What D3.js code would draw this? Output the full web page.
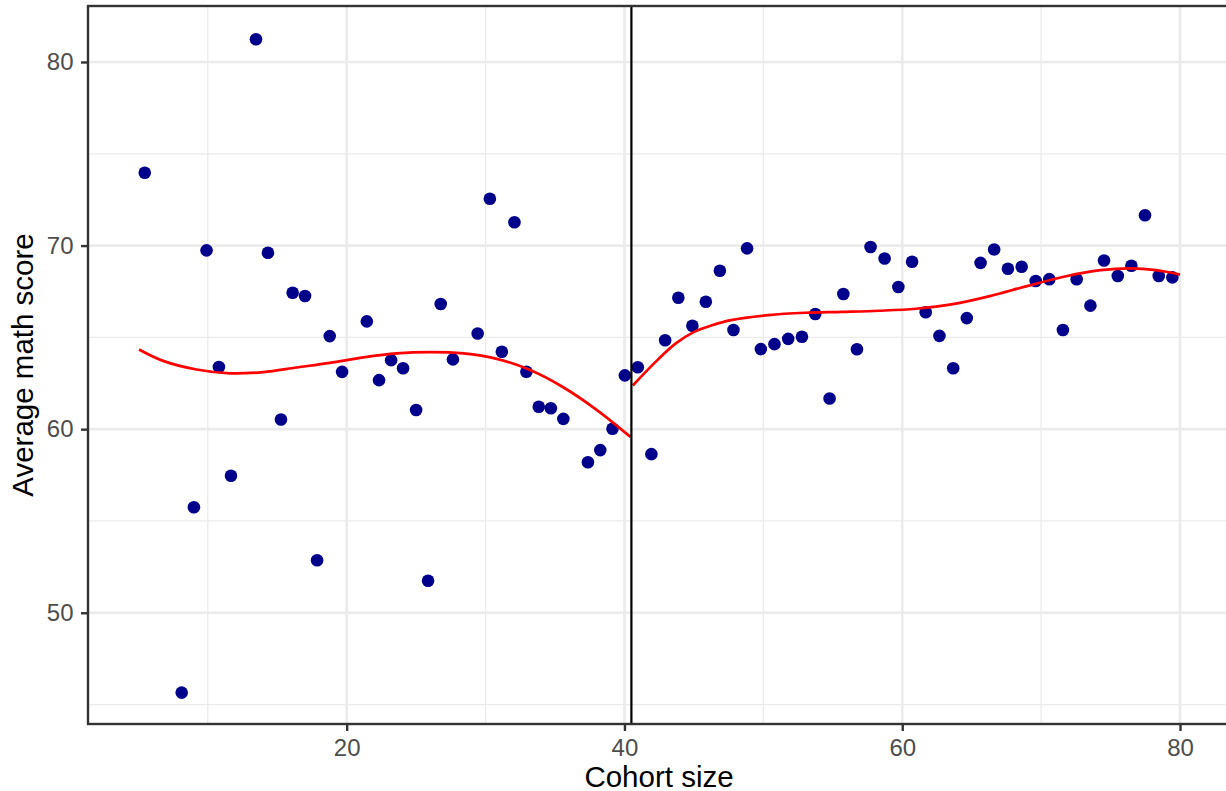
<!DOCTYPE html>
<html>
<head>
<meta charset="utf-8">
<script src="https://cdn.jsdelivr.net/npm/d3@7"></script>
<style>
  body { margin: 0; background: #fff; }
  svg { display: block; font-family: "Liberation Sans", Arial, sans-serif; }
</style>
</head>
<body>
<svg></svg>
<script>
// cohorts below the cutoff
var cohortLeft = [5.46, 8.12, 9.0, 9.91, 10.8, 11.67, 13.47, 14.33, 15.27, 16.11, 17.0, 17.87,
    18.78, 19.67, 21.45, 22.33, 23.2, 24.06, 25.0, 25.86, 26.77, 27.65, 29.43, 30.31, 31.17,
    32.08, 32.94, 33.83, 34.7, 35.6, 37.37, 38.26, 39.14, 40.03];
var scoreLeft = [73.97, 45.65, 55.75, 69.74, 63.39, 57.46, 81.24, 69.61, 60.53, 67.43, 67.25, 52.86,
    65.07, 63.12, 65.87, 62.67, 63.76, 63.32, 61.04, 51.74, 66.82, 63.8, 65.21, 72.55, 64.22,
    71.27, 63.13, 61.22, 61.14, 60.56, 58.2, 58.86, 60.02, 62.93];

// cohorts above the cutoff
var cohortRight = [40.96, 41.94, 42.93, 43.88, 44.89, 45.86, 46.87, 47.85, 48.83, 49.82, 50.8, 51.79,
    52.78, 53.74, 54.77, 55.76, 56.74, 57.72, 58.73, 59.72, 60.71, 61.69, 62.68, 63.67, 64.65,
    65.64, 66.62, 67.61, 68.6, 69.61, 70.59, 71.57, 72.56, 73.55, 74.53, 75.52, 76.5, 77.48,
    78.47, 79.45];
var scoreRight = [63.37, 58.64, 64.84, 67.16, 65.63, 66.94, 68.63, 65.4, 69.85, 64.36, 64.63, 64.92,
    65.03, 66.27, 61.67, 67.36, 64.35, 69.92, 69.3, 67.74, 69.12, 66.37, 65.08, 63.32, 66.05,
    69.06, 69.79, 68.74, 68.85, 68.07, 68.17, 65.4, 68.17, 66.73, 69.19, 68.34, 68.9, 71.65,
    68.34, 68.27];

// smoothed fit
var smoothLeftX = [5.05, 6.78, 9.19, 11.59, 13.99, 16.4, 18.8, 21.2, 23.6, 26.0, 28.41, 30.81,
    33.21, 35.62, 38.02, 40.43];
var smoothLeftY = [64.34, 63.72, 63.25, 63.04, 63.11, 63.36, 63.61, 63.91, 64.13, 64.2, 64.13, 63.83,
    63.22, 62.27, 61.04, 59.58];
var smoothRightX = [40.6, 42.37, 43.7, 45.02, 46.36, 47.68, 50.35, 53.0, 55.67, 58.33, 60.99, 63.65,
    66.31, 68.97, 71.63, 74.29, 76.42, 78.28, 80.0];
var smoothRightY = [62.38, 63.76, 64.67, 65.3, 65.67, 65.94, 66.21, 66.34, 66.39, 66.45, 66.56, 66.81,
    67.25, 67.79, 68.3, 68.66, 68.76, 68.66, 68.42];

var cutoff = 40.5;
var xTicks = [20, 40, 60, 80];
var xMinor = [10, 30, 50, 70];
var yTicks = [50, 60, 70, 80];
var yMinor = [45, 55, 65, 75];

var svgWidth = 1226, svgHeight = 791;
var panel = { left: 88, right: 1230, top: 6, bottom: 724 };

var svg = d3.select("svg")
    .attr("width", svgWidth)
    .attr("height", svgHeight);

svg.append("rect")
    .attr("width", "100%")
    .attr("height", "100%")
    .attr("fill", "white");

var x = d3.scaleLinear().domain([1.375, 83.6]).range([panel.left, panel.right]);
var y = d3.scaleLinear().domain([43.94, 83.05]).range([panel.bottom, panel.top]);

svg.append("clipPath").attr("id", "clip")
    .append("rect")
    .attr("x", panel.left).attr("y", panel.top)
    .attr("width", panel.right - panel.left)
    .attr("height", panel.bottom - panel.top);

var g = svg.append("g").attr("clip-path", "url(#clip)");

// grid
g.selectAll(".xminor").data(xMinor).enter().append("line")
    .attr("x1", d => x(d)).attr("x2", d => x(d))
    .attr("y1", panel.top).attr("y2", panel.bottom)
    .attr("stroke", "#ebebeb").attr("stroke-width", 1.3);
g.selectAll(".yminor").data(yMinor).enter().append("line")
    .attr("y1", d => y(d)).attr("y2", d => y(d))
    .attr("x1", panel.left).attr("x2", panel.right)
    .attr("stroke", "#ebebeb").attr("stroke-width", 1.3);
g.selectAll(".xmajor").data(xTicks).enter().append("line")
    .attr("x1", d => x(d)).attr("x2", d => x(d))
    .attr("y1", panel.top).attr("y2", panel.bottom)
    .attr("stroke", "#ebebeb").attr("stroke-width", 2.6);
g.selectAll(".ymajor").data(yTicks).enter().append("line")
    .attr("y1", d => y(d)).attr("y2", d => y(d))
    .attr("x1", panel.left).attr("x2", panel.right)
    .attr("stroke", "#ebebeb").attr("stroke-width", 2.6);

// points
var pts = d3.zip(cohortLeft, scoreLeft).concat(d3.zip(cohortRight, scoreRight));
g.selectAll("circle").data(pts).enter().append("circle")
    .attr("cx", d => x(d[0]))
    .attr("cy", d => y(d[1]))
    .attr("r", 6.3)
    .attr("fill", "#00008b");

// smooth fits
var line = d3.line()
    .x(d => x(d[0]))
    .y(d => y(d[1]))
    .curve(d3.curveCatmullRom);

[d3.zip(smoothLeftX, smoothLeftY), d3.zip(smoothRightX, smoothRightY)].forEach(function (s) {
    g.append("path")
        .datum(s)
        .attr("fill", "none")
        .attr("stroke", "red")
        .attr("stroke-width", 2.7)
        .attr("d", line);
});

// cutoff line
g.append("line")
    .attr("x1", x(cutoff)).attr("x2", x(cutoff))
    .attr("y1", panel.top).attr("y2", panel.bottom)
    .attr("stroke", "black").attr("stroke-width", 2.2);

// panel border
svg.append("rect")
    .attr("x", panel.left).attr("y", panel.top)
    .attr("width", panel.right - panel.left)
    .attr("height", panel.bottom - panel.top)
    .attr("fill", "none")
    .attr("stroke", "#333333")
    .attr("stroke-width", 2.4);

// axes
var xAxis = svg.append("g")
    .attr("transform", "translate(0," + panel.bottom + ")")
    .call(d3.axisBottom(x).tickValues(xTicks).tickSize(7).tickPadding(8));
var yAxis = svg.append("g")
    .attr("transform", "translate(" + panel.left + ",0)")
    .call(d3.axisLeft(y).tickValues(yTicks).tickSize(7).tickPadding(7.5));

[xAxis, yAxis].forEach(function (a) {
    a.select(".domain").remove();
    a.selectAll(".tick line").attr("stroke", "#333333").attr("stroke-width", 2.4);
    a.selectAll(".tick text")
        .attr("fill", "#4d4d4d")
        .attr("font-size", "24px")
        .attr("font-family", "Liberation Sans, Arial, sans-serif");
});

svg.append("text")
    .attr("x", (panel.left + panel.right) / 2)
    .attr("y", 786.5)
    .attr("text-anchor", "middle")
    .attr("font-size", "29.5px")
    .attr("fill", "black")
    .text("Cohort size");

svg.append("text")
    .attr("transform", "translate(33," + (panel.top + panel.bottom) / 2 + ") rotate(-90)")
    .attr("text-anchor", "middle")
    .attr("font-size", "29.5px")
    .attr("fill", "black")
    .text("Average math score");
</script>
</body>
</html>
